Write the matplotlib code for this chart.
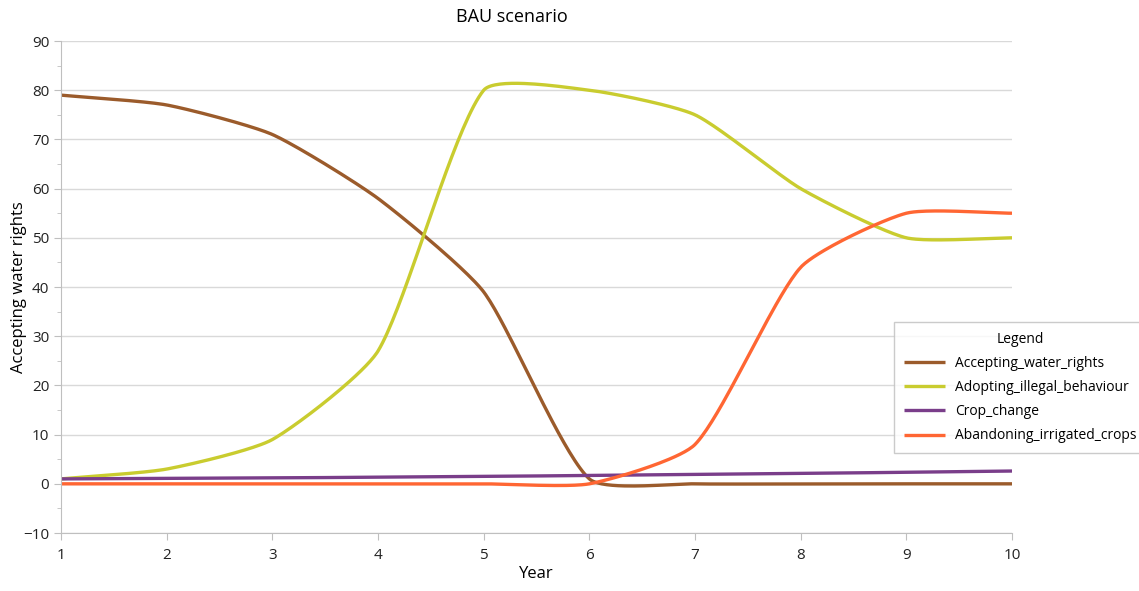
import numpy as np
import matplotlib
matplotlib.use("Agg")
import matplotlib.pyplot as plt
from matplotlib.ticker import MultipleLocator

plt.rcParams['font.family'] = ['Open Sans', 'DejaVu Sans']

years = [1, 2, 3, 4, 5, 6, 7, 8, 9, 10]
accepting = [79, 77, 71, 58, 39, 1, 0, 0, 0, 0]
adopting = [1, 3, 9, 27, 80, 80, 75, 60, 50, 50]
crop_change = [1.0, 1.1, 1.2, 1.35, 1.5, 1.7, 1.9, 2.1, 2.35, 2.6]
abandoning = [0, 0, 0, 0, 0, 0, 8, 44, 55, 55]

series = [
    ("Accepting_water_rights", accepting, "#9B5B2B"),
    ("Adopting_illegal_behaviour", adopting, "#C9CC2F"),
    ("Crop_change", crop_change, "#7A3E8A"),
    ("Abandoning_irrigated_crops", abandoning, "#FF6633"),
]

# pixel scale of one data unit, used so the smoothing works like excel's
SX, SY = 105.7, 4.92
TENSION = 0.2


def smooth(x, y, n=40):
    # bezier smoothing, tangents weighted by neighbour segment lengths
    pts = np.column_stack([np.asarray(x, float) * SX, np.asarray(y, float) * SY])
    m = len(pts)
    d = np.linalg.norm(np.diff(pts, axis=0), axis=1)
    out = []
    for i in range(m - 1):
        p1, p2 = pts[i], pts[i + 1]
        if i > 0:
            t1 = pts[i + 1] - pts[i - 1]
            c1 = p1 + t1 * d[i] / (d[i - 1] + d[i]) * TENSION
        else:
            c1 = p1 + (p2 - p1) * TENSION
        if i + 2 < m:
            t2 = pts[i + 2] - pts[i]
            c2 = p2 - t2 * d[i] / (d[i] + d[i + 1]) * TENSION
        else:
            c2 = p2 - (p2 - p1) * TENSION
        t = np.linspace(0, 1, n)[:, None]
        seg = ((1 - t) ** 3) * p1 + 3 * ((1 - t) ** 2) * t * c1 + 3 * (1 - t) * t ** 2 * c2 + t ** 3 * p2
        out.append(seg if i == 0 else seg[1:])
    res = np.vstack(out)
    return res[:, 0] / SX, res[:, 1] / SY


fig = plt.figure(figsize=(11.39, 5.91), dpi=100)
ax = fig.add_axes([0.0536, 0.0981, 0.8349, 0.8325])

for name, vals, color in series:
    sx, sy = smooth(years, vals)
    ax.plot(sx, sy, color=color, lw=2.4, label=name, solid_capstyle="butt")

ax.set_xlim(1, 10)
ax.set_ylim(-10, 90)
ax.set_xticks(years)
ax.yaxis.set_major_locator(MultipleLocator(10))
ax.yaxis.set_minor_locator(MultipleLocator(5))
ax.grid(axis="y", which="major", color="#D9D9D9", lw=1)
ax.set_axisbelow(True)
for s in ["top", "right"]:
    ax.spines[s].set_visible(False)
for s in ["left", "bottom"]:
    ax.spines[s].set_color("#BFBFBF")
ax.tick_params(axis="both", which="both", color="#BFBFBF", labelsize=11, labelcolor="#222222")
ax.tick_params(axis="y", which="major", length=5)
ax.tick_params(axis="y", which="minor", length=3)
ax.tick_params(axis="x", length=5, pad=6)

ax.set_xlabel("Year", fontsize=12, labelpad=2)
ax.set_ylabel("Accepting water rights", fontsize=12)
ax.yaxis.set_label_coords((27 - 61) / 951, 0.5)
fig.text(512 / 1139, 1 - 17 / 591, "BAU scenario", ha="center", va="center", fontsize=13)

leg = ax.legend(loc="upper left", bbox_to_anchor=(894 / 1139, 1 - 322 / 591),
                bbox_transform=fig.transFigure, title="Legend", fontsize=10,
                title_fontsize=10, frameon=True, fancybox=False, edgecolor="#BFBFBF",
                handlelength=3.0, handletextpad=0.7, borderpad=0.7, labelspacing=0.66,
                borderaxespad=0)
leg.get_frame().set_linewidth(1)

fig.savefig("out.png", dpi=100)
